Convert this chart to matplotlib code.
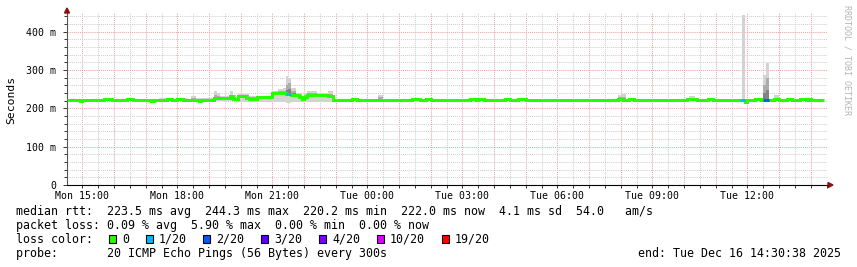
import datetime as dt

import numpy as np
import matplotlib
matplotlib.use("Agg")
import matplotlib.pyplot as plt
import matplotlib.dates as mdates
from matplotlib.patches import Polygon, Rectangle
from matplotlib.ticker import MultipleLocator, FuncFormatter

W, H = 857, 267
MONO = "DejaVu Sans Mono"

# median rtt in ms, one value per 5 minute step, one row per hour
median_ms = [
    [221, 221, 221, 221, 221, 218, 221, 221, 221, 221, 221, 221],
    [221, 221, 224, 224, 224, 221, 221, 221, 221, 221, 221, 224],
    [224, 221, 221, 221, 221, 221, 221, 221, 218, 221, 221, 221],
    [221, 221, 224, 224, 221, 221, 224, 224, 221, 221, 221, 221],
    [221, 221, 218, 222, 222, 222, 222, 222, 226, 226, 226, 226],
    [226, 226, 232, 224, 224, 231, 231, 231, 226, 224, 224, 224],
    [229, 229, 229, 229, 229, 229, 241, 241, 241, 241, 241, 238],
    [238, 235, 235, 235, 230, 224, 230, 236, 236, 236, 236, 236],
    [236, 236, 236, 232, 232, 221, 221, 221, 221, 221, 221, 221],
    [224, 224, 221, 221, 221, 221, 221, 221, 221, 221, 221, 221],
    [221, 221, 221, 221, 221, 221, 221, 221, 221, 221, 221, 224],
    [224, 224, 221, 221, 224, 224, 221, 221, 221, 221, 221, 221],
    [221, 221, 221, 221, 221, 221, 221, 221, 221, 224, 224, 221],
    [224, 224, 221, 221, 221, 221, 221, 221, 221, 221, 224, 224],
    [221, 221, 221, 224, 224, 224, 221, 221, 221, 221, 221, 221],
    [221, 221, 221, 221, 221, 221, 221, 221, 221, 221, 221, 221],
    [221, 221, 221, 221, 221, 221, 221, 221, 221, 221, 221, 221],
    [221, 221, 221, 221, 221, 224, 224, 221, 221, 224, 224, 221],
    [221, 221, 221, 221, 221, 221, 221, 221, 221, 221, 221, 221],
    [221, 221, 221, 221, 221, 221, 221, 224, 224, 224, 224, 221],
    [221, 221, 221, 224, 224, 221, 221, 221, 221, 221, 221, 221],
    [221, 221, 221, 221, 221, 216, 221, 221, 221, 224, 224, 221],
    [221, 221, 221, 221, 224, 224, 221, 221, 221, 224, 224, 221],
    [221, 221, 224, 224, 221, 224, 221, 221, 221, 221, 221],
]

# steps with packet loss (index into median) and loss level
loss_steps = [83, 84, 255, 256, 264, 265]
loss_levels = [1, 1, 1, 1, 2, 2]

# smoke (spread of the 20 pings) where it shows above/below the median
smoke_steps = [35, 36, 37, 42, 43, 44, 45, 47, 48, 49, 50, 51, 52,
               53, 54, 55, 56, 57, 58, 59, 60, 61, 62, 63, 64,
               65, 66, 67, 68, 69, 70, 71, 72, 73, 74, 75, 76, 77,
               78, 79, 80, 81, 82, 83, 84, 85, 86, 87, 88, 89, 90,
               91, 92, 93, 94, 95, 96, 97, 98, 99, 100, 101,
               118, 119, 209, 210, 211, 236, 237, 256, 264, 265, 268, 269]
smoke_lo = [219, 219, 219, 219, 219, 219, 219, 219, 219, 218, 218, 218, 218,
            217, 217, 217, 218, 218, 219, 219, 219, 219, 218, 218, 218,
            217, 217, 217, 217, 217, 217, 217, 217, 217, 217, 217, 217, 217,
            216, 216, 216, 216, 216, 215, 215, 216, 216, 216, 216, 216, 216,
            216, 216, 216, 216, 216, 216, 216, 216, 216, 216, 219,
            220, 220, 220, 220, 220, 220, 220, 219, 219, 219, 220, 220]
smoke_hi = [227, 227, 227, 226, 226, 226, 226, 231, 231, 227, 227, 227, 227,
            228, 228, 228, 246, 240, 232, 232, 232, 232, 244, 236, 232,
            238, 238, 238, 238, 233, 233, 233, 233, 233, 233, 233, 233, 233,
            244, 244, 250, 250, 252, 285, 278, 253, 253, 240, 240, 232, 240,
            246, 246, 246, 246, 240, 240, 240, 240, 246, 246, 224,
            234, 234, 236, 240, 238, 232, 232, 444, 288, 318, 235, 235]
smoke_mid = [222, 222, 222, 222, 222, 222, 222, 226, 226, 223, 223, 223, 223,
             224, 224, 224, 236, 232, 228, 228, 228, 228, 236, 230, 228,
             234, 234, 234, 234, 230, 230, 230, 230, 230, 230, 230, 230, 230,
             242, 242, 244, 244, 246, 262, 265, 245, 245, 236, 236, 228, 234,
             240, 240, 240, 240, 238, 238, 238, 238, 238, 238, 222,
             230, 230, 230, 230, 230, 228, 228, 224, 262, 280, 226, 226]

loss_colors = ["#26ff00", "#00b8ff", "#0059ff", "#5e00ff",
               "#7e00ff", "#dd00ff", "#ff0000"]
loss_labels = ["0", "1/20", "2/20", "3/20", "4/20", "10/20", "19/20"]
loss_box_x = [109, 146, 203, 261, 319, 377, 442]

stats_lines = [
    "median rtt:  223.5 ms avg  244.3 ms max  220.2 ms min  "
    "222.0 ms now  4.1 ms sd  54.0   am/s",
    "packet loss: 0.09 % avg  5.90 % max  0.00 % min  0.00 % now",
]
probe_text = "probe:       20 ICMP Echo Pings (56 Bytes) every 300s"
end_text = "end: Tue Dec 16 14:30:38 2025"

first_step = dt.datetime(2025, 12, 15, 14, 30)
view_start = dt.datetime(2025, 12, 15, 14, 30, 38)
view_end = dt.datetime(2025, 12, 16, 14, 30, 38)
STEP = 5.0 / 1440.0


def fx(x):
    return x / W


def fy(y):
    return 1.0 - y / H


median = np.array([v for row in median_ms for v in row], dtype=float)
edges = mdates.date2num(first_step) + np.arange(len(median) + 1) * STEP

fig = plt.figure(figsize=(W / 100, H / 100), dpi=100)
ax = fig.add_axes([fx(67), 82 / H, 760 / W, 172.5 / H])
ax.set_xlim(mdates.date2num(view_start), mdates.date2num(view_end))
ax.set_ylim(0, 450)

# smoke: light outer band, darker inner band near the median
idx = np.array(smoke_steps)
lo = np.array(smoke_lo, float)
hi = np.array(smoke_hi, float)
mid = np.array(smoke_mid, float)
med = median[idx]
ax.bar(edges[idx], hi - lo, bottom=lo, width=STEP, align="edge",
       color="#d3d3d3", lw=0, zorder=2)
ax.bar(edges[idx], mid - med + 3, bottom=med - 3, width=STEP, align="edge",
       color="#acacac", lw=0, zorder=2.1)
core = med + (mid - med) * 0.45
ax.bar(edges[idx], core - med + 2, bottom=med - 2, width=STEP, align="edge",
       color="#828282", lw=0, zorder=2.2)

# median line, coloured by loss
lw_line = 3 * 72 / 100
ax.stairs(median, edges, baseline=None, color=loss_colors[0], lw=lw_line,
          zorder=4)
for i, lvl in zip(loss_steps, loss_levels):
    ax.hlines(median[i], edges[i], edges[i + 1], colors=loss_colors[lvl],
              lw=lw_line, capstyle="butt", zorder=5)

# grid
dots = (0, (1, 1))
ax.set_axisbelow(True)
ax.xaxis.set_major_locator(mdates.HourLocator())
ax.xaxis.set_minor_locator(mdates.MinuteLocator(byminute=[30]))
ax.yaxis.set_major_locator(MultipleLocator(100))
ax.yaxis.set_minor_locator(MultipleLocator(20))
ax.grid(which="major", color="#eba3a3", ls=dots, lw=0.75)
ax.grid(which="minor", color="#cfcfcf", ls=dots, lw=0.75)


def xlabel(v, pos):
    d = mdates.num2date(v)
    return d.strftime("%a %H:%M") if d.hour % 3 == 0 else ""


ax.xaxis.set_major_formatter(FuncFormatter(xlabel))
ax.yaxis.set_major_formatter(
    FuncFormatter(lambda v, pos: "0" if v == 0 else f"{v:.0f} m"))
ax.tick_params(which="both", labelsize=7.1, colors="#333333", length=2,
               width=0.7, labelcolor="black")
ax.tick_params(axis="x", pad=2)
ax.tick_params(axis="y", which="major", length=3, pad=5)
for lab in ax.get_xticklabels() + ax.get_yticklabels():
    lab.set_family(MONO)

for s in ("top", "right"):
    ax.spines[s].set_visible(False)
ax.spines["left"].set_color("#555555")
ax.spines["bottom"].set_color("black")
ax.spines["left"].set_linewidth(0.8)
ax.spines["bottom"].set_linewidth(0.8)

# axis arrows
arrow_col = "#8b1010"
fig.add_artist(Polygon([(fx(64.5), fy(13)), (fx(69.5), fy(13)), (fx(67), fy(8))],
                       closed=True, color=arrow_col, transform=fig.transFigure))
fig.add_artist(Polygon([(fx(828), fy(182.5)), (fx(828), fy(187.5)),
                        (fx(833), fy(185))],
                       closed=True, color=arrow_col, transform=fig.transFigure))

fig.text(fx(11), fy(100), "Seconds", rotation=90, ha="center", va="center",
         family=MONO, size=8.2)
fig.text(fx(847), fy(60), "RRDTOOL / TOBI OETIKER", rotation=270,
         ha="center", va="center", family=MONO, size=6, color="#b4b4b4")

# legend block
for k, line in enumerate(stats_lines):
    fig.text(fx(16), fy(211.5 + 14 * k), line, ha="left", va="center",
             family=MONO, size=8.4)
fig.text(fx(16), fy(239.5), "loss color:", ha="left", va="center",
         family=MONO, size=8.4)
for bx, col, lab in zip(loss_box_x, loss_colors, loss_labels):
    fig.add_artist(Rectangle((fx(bx), fy(243)), 7 / W, 8 / H, facecolor=col,
                             edgecolor="black", lw=0.8,
                             transform=fig.transFigure))
    fig.text(fx(bx + 13), fy(239.5), lab, ha="left", va="center",
             family=MONO, size=8.4)
fig.text(fx(16), fy(253.5), probe_text, ha="left", va="center",
         family=MONO, size=8.4)
fig.text(fx(841), fy(253.5), end_text, ha="right", va="center",
         family=MONO, size=8.4)

fig.savefig("out.png", dpi=100, facecolor="white")
